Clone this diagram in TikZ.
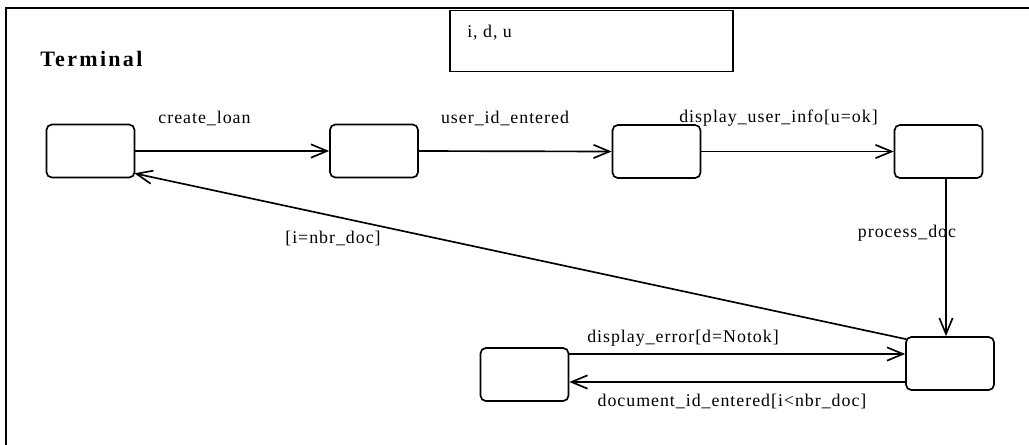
\documentclass[tikz,border=0pt]{standalone}
\usepackage{fontspec}
\setmainfont{Liberation Serif}
\newfontfamily\lblfont[LetterSpace=5.5]{Liberation Serif}
\newfontfamily\ttlfont[LetterSpace=10.5]{Liberation Serif}
\usetikzlibrary{arrows.meta,calc}
\tikzset{
  x=0.75pt, y=-0.75pt,
  frame/.style={line width=1.5pt},
  state/.style={draw, line width=1.25pt, rounded corners=4pt,
    minimum width=66pt, minimum height=39.75pt, inner sep=0pt},
  trans/.style={line width=1.25pt, -{Straight Barb[length=12pt,width=10pt,line width=1.25pt]}},
  lbl/.style={anchor=base, inner sep=0pt, font=\lblfont\fontsize{13.4pt}{16pt}\selectfont},
}
\begin{document}
\begin{tikzpicture}
\useasboundingbox (0,0) rectangle (1029,444);
\clip (0,0) rectangle (1029,444);

% enclosing frame of the state machine
\draw[frame] (6,460) -- (6,8) -- (1040,8);

% title and attribute compartment
\node[anchor=base west, inner sep=0pt,
      font=\ttlfont\bfseries\fontsize{16.5pt}{19pt}\selectfont] (title) at (40,66) {Terminal};
\node[draw, line width=1.25pt, minimum width=212.25pt, minimum height=45.75pt,
      inner sep=0pt] (attr) at (591.5,41) {};
\node[lbl, anchor=base west] (vars) at (467,37) {i, d, u};

% states
\node[state] (s1) at (90.5,151) {};
\node[state] (s2) at (374,151) {};
\node[state] (s3) at (656.5,151.5) {};
\node[state] (s4) at (938.5,151.5) {};
\node[state] (s5) at (950,363.5) {};
\node[state] (s6) at (524.5,374.5) {};

% helper coordinates for offset connectors
\coordinate (vx) at (946,0);
\coordinate (yu) at (0,354);
\coordinate (yl) at (0,382);

% transitions
\draw[trans] (s1.east) -- (s2.west);
\draw[trans] (s2.east) -- (s3.west);
\draw[trans] (s3.east) -- (s4.west);
\draw[trans] (s4.south -| vx) -- (s5.north -| vx);
\draw[trans] ($(s5.north west)+(1,3)$) -- ($(s1.south east)+(-1,-5)$);
\draw[trans] (s6.east |- yu) -- (s5.west |- yu);
\draw[trans] (s5.west |- yl) -- (s6.east |- yl);

% transition labels
\node[lbl] (l12) at (204.5,123) {create\_loan};
\node[lbl] (l23) at (505,123) {user\_id\_entered};
\node[lbl] (l34) at (778.5,122) {display\_user\_info[u=ok]};
\node[lbl] (l45) at (907,237) {process\_doc};
\node[lbl] (l51) at (333,243) {[i=nbr\_doc]};
\node[lbl] (l65) at (683,342) {display\_error[d=Notok]};
\node[lbl] (l56) at (732,406) {document\_id\_entered[i<nbr\_doc]};
\end{tikzpicture}
\end{document}
